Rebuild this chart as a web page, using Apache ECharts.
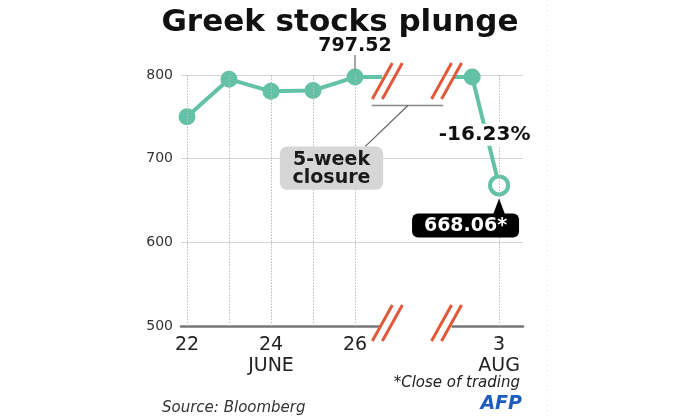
<!DOCTYPE html>
<html>
<head>
<meta charset="utf-8">
<script src="https://cdn.jsdelivr.net/npm/echarts@6/dist/echarts.min.js"></script>
<style>html,body{margin:0;padding:0;background:#fff}#c{width:700px;height:420px}</style>
</head>
<body>
<div id="c"></div>
<script>
// ---- data ----
const juneDays = [22, 23, 24, 25, 26];
const juneValues = [750, 795, 780.5, 781.5, 797.52];
// positions on the compressed axis after the 5-week closure
const augDays = [28.79, 29.43];
const augValues = [797.52, 668.06];
const breakStart = 26.64, breakEnd = 28.33;
const xTickValues = [22, 24, 26, 29.43];
const xTickLabels = ['22', '24\nJUNE', '26', '3\nAUG'];
const gridDays = [22, 23, 24, 25, 26, 29.43];
const yMin = 500, yMax = 800, yStep = 100;
const peakLabel = '797.52';
const lastLabel = '668.06*';
const changeLabel = '-16.23%';

const teal = '#63c2a6';
const breakColor = '#e2583a';
const FONT = '"DejaVu Sans", Verdana, sans-serif';

const chart = echarts.init(document.getElementById('c'));

function slashPair(cx, cy) {
  return [-5, 5].map(off => ({
    type: 'line',
    shape: { x1: cx + off - 10, y1: cy + 18, x2: cx + off + 10, y2: cy - 18 },
    style: { stroke: breakColor, lineWidth: 3 }
  }));
}

function renderAnnotations(params, api) {
  const children = [];
  const lastIdx = juneDays.length - 1;
  const pPeak = api.coord([juneDays[lastIdx], juneValues[lastIdx]]);
  const pPre = api.coord([augDays[0], augValues[0]]);
  const pAug = api.coord([augDays[1], augValues[1]]);
  const base = api.coord([22, yMin]);
  const b1 = api.coord([26.77, yMin]);
  const b2 = api.coord([28.18, yMin]);

  // mask the axis line across the closure gap
  const m1 = api.coord([26.6, yMin]);
  const m2 = api.coord([28.3, yMin]);
  children.push({ type: 'rect', shape: { x: m1[0], y: base[1] - 4, width: m2[0] - m1[0], height: 8 },
    style: { fill: '#fff' } });

  // break marks on line and on axis
  children.push(...slashPair(b1[0], pPeak[1] + 4));
  children.push(...slashPair(b2[0], pPeak[1] + 4));
  children.push(...slashPair(b1[0], base[1] - 3));
  children.push(...slashPair(b2[0], base[1] - 3));

  // peak label + leader
  children.push({ type: 'line', shape: { x1: pPeak[0], y1: pPeak[1] - 22, x2: pPeak[0], y2: pPeak[1] - 7 },
    style: { stroke: '#888', lineWidth: 1.5 } });
  children.push({ type: 'text', style: { text: peakLabel, x: pPeak[0], y: pPeak[1] - 31,
    align: 'center', verticalAlign: 'middle', fill: '#111',
    font: 'bold 19px ' + FONT } });

  // closure bracket + leader + box
  const br1 = api.coord([26.40, 763.5]);
  const br2 = api.coord([28.10, 763.5]);
  children.push({ type: 'line', shape: { x1: br1[0], y1: br1[1], x2: br2[0], y2: br2[1] },
    style: { stroke: '#888', lineWidth: 1.5 } });
  const dA = api.coord([27.26, 763.5]);
  const dB = api.coord([26.24, 714.4]);
  children.push({ type: 'line', shape: { x1: dA[0], y1: dA[1], x2: dB[0], y2: dB[1] },
    style: { stroke: '#666', lineWidth: 1.2 } });
  const bx1 = api.coord([24.21, 714.4]);
  const bx2 = api.coord([26.67, 662.9]);
  children.push({ type: 'rect', shape: { x: bx1[0], y: bx1[1], width: bx2[0] - bx1[0], height: bx2[1] - bx1[1], r: 7 },
    style: { fill: '#d6d6d6' } });
  children.push({ type: 'text', style: { text: '5-week\nclosure', x: (bx1[0] + bx2[0]) / 2, y: (bx1[1] + bx2[1]) / 2 + 0.5,
    align: 'center', verticalAlign: 'middle', fill: '#1a1a1a', lineHeight: 18,
    font: 'bold 19px ' + FONT } });

  // percentage change label
  children.push({ type: 'text', style: { text: changeLabel, x: (pPre[0] + pAug[0]) / 2 - 1, y: (pPre[1] + pAug[1]) / 2 + 3.5,
    align: 'center', verticalAlign: 'middle', fill: '#111',
    backgroundColor: '#fff', padding: [1, 0, 1, 0],
    font: 'bold 20px ' + FONT } });

  // last value callout
  const boxW = 107, boxH = 24;
  const bxL = pAug[0] - 87, bxT = pAug[1] + 28;
  children.push({ type: 'polygon', shape: { points: [[pAug[0], pAug[1] + 13], [pAug[0] - 6, bxT + 1], [pAug[0] + 6, bxT + 1]] },
    style: { fill: '#000' } });
  children.push({ type: 'rect', shape: { x: bxL, y: bxT, width: boxW, height: boxH, r: 6 },
    style: { fill: '#000' } });
  children.push({ type: 'text', style: { text: lastLabel, x: bxL + boxW / 2, y: bxT + boxH / 2 + 0.5,
    align: 'center', verticalAlign: 'middle', fill: '#fff',
    font: 'bold 19px ' + FONT } });

  return { type: 'group', children };
}

const juneData = juneDays.map((d, i) => [d, juneValues[i]]);
juneData.push({ value: [breakStart, juneValues[juneValues.length - 1]], symbol: 'none' });

const augData = [
  { value: [breakEnd, augValues[0]], symbol: 'none' },
  [augDays[0], augValues[0]],
  { value: [augDays[1], augValues[1]], symbolSize: 18,
    itemStyle: { color: '#fff', borderColor: teal, borderWidth: 4 } }
];

const option = {
  animation: false,
  backgroundColor: '#fff',
  grid: { left: 181, right: 177, top: 75, bottom: 94 },
  xAxis: {
    type: 'value', min: 21.857, max: 30.0,
    axisLine: { show: true, lineStyle: { color: '#777', width: 2.5 } },
    axisTick: { show: false, customValues: xTickValues },
    splitLine: { show: false },
    axisLabel: {
      customValues: xTickValues,
      formatter: v => {
        const i = xTickValues.findIndex(t => Math.abs(t - v) < 1e-6);
        return i >= 0 ? xTickLabels[i] : '';
      },
      color: '#222', fontSize: 19, fontFamily: FONT, lineHeight: 21, margin: 9
    }
  },
  yAxis: {
    type: 'value', min: yMin, max: yMax, interval: yStep,
    axisLine: { show: false }, axisTick: { show: false },
    splitLine: { lineStyle: { color: '#d4d4d4', width: 1.2 } },
    axisLabel: { color: '#333', fontSize: 14, fontFamily: FONT, margin: 8 }
  },
  series: [
    {
      type: 'line', data: juneData, silent: true,
      symbol: 'circle', symbolSize: 17,
      lineStyle: { color: teal, width: 4 },
      itemStyle: { color: teal },
      markLine: {
        silent: true, symbol: 'none', label: { show: false },
        lineStyle: { color: '#bbb', type: [1.5, 1.5], width: 1 },
        data: gridDays.map(d => ({ xAxis: d }))
      },
      z: 2
    },
    {
      type: 'line', data: augData, silent: true, z: 2,
      symbol: 'circle', symbolSize: 17,
      lineStyle: { color: teal, width: 4 },
      itemStyle: { color: teal }
    },
    {
      type: 'custom', silent: true, z: 10, clip: false,
      data: [[26, 797.52]],
      renderItem: renderAnnotations
    }
  ],
  graphic: [
    { type: 'text', x: 340, y: 23, style: { text: 'Greek stocks plunge', align: 'center', verticalAlign: 'middle',
      fill: '#111', font: 'bold 31px ' + FONT } },
    { type: 'text', x: 162, y: 408, style: { text: 'Source: Bloomberg', align: 'left', verticalAlign: 'middle',
      fill: '#333', font: 'italic 15px ' + FONT } },
    { type: 'text', x: 520, y: 383, style: { text: '*Close of trading', align: 'right', verticalAlign: 'middle',
      fill: '#222', font: 'italic 15px ' + FONT } },
    { type: 'text', x: 522, y: 404, style: { text: 'AFP', align: 'right', verticalAlign: 'middle',
      fill: '#1d5cc0', font: 'italic bold 19px ' + FONT } },
    { type: 'line', shape: { x1: 547, y1: 0, x2: 547, y2: 420 },
      style: { stroke: '#e4e4e4', lineWidth: 1, lineDash: [1, 4] } }
  ]
};

chart.setOption(option);
</script>
</body>
</html>
